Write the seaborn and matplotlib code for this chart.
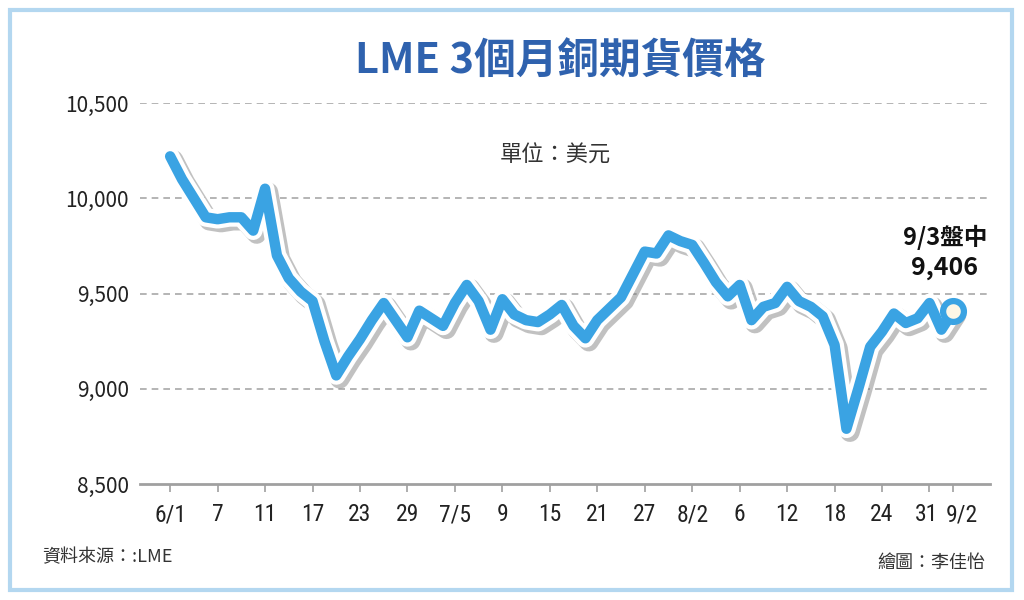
import matplotlib
matplotlib.use("Agg")
import matplotlib.pyplot as plt
import matplotlib.patheffects as pe
from matplotlib import font_manager
import seaborn as sns
import pandas as pd

# trading days from 6/1 (index 0) to 9/3 intraday
day_idx = list(range(67))
price = [10220, 10100, 10000, 9900, 9890, 9900, 9900, 9830, 10050, 9700,
         9580, 9510, 9460, 9250, 9070, 9170, 9260, 9360, 9450, 9360,
         9270, 9410, 9370, 9330, 9450, 9545, 9460, 9310, 9470, 9390,
         9360, 9350, 9390, 9440, 9330, 9265, 9360, 9420, 9480, 9600,
         9720, 9710, 9805, 9775, 9755, 9660, 9560, 9485, 9545, 9360,
         9430, 9450, 9535, 9460, 9430, 9380, 9230, 8790, 9000, 9220,
         9300, 9395, 9345, 9370, 9450, 9310, 9406]

tick_idx = [0, 4, 8, 12, 16, 20, 24, 28, 32, 36, 40, 44, 48, 52, 56, 60, 64, 66]
tick_labels = ["6/1", "7", "11", "17", "23", "29", "7/5", "9", "15", "21",
               "27", "8/2", "6", "12", "18", "24", "31", "9/2"]
y_ticks = [8500, 9000, 9500, 10000, 10500]

df = pd.DataFrame({"day": day_idx, "price": price})

sns.set_style("white")
plt.rcParams['font.family'] = ['Noto Sans CJK TC', 'DejaVu Sans']

# narrow face for the date labels, if one is installed
names = {f.name for f in font_manager.fontManager.ttflist}
narrow = "DejaVu Sans"
for cand in ["Liberation Sans Narrow", "DejaVu Sans Condensed", "Roboto Condensed", "Open Sans Condensed"]:
    if cand in names:
        narrow = cand
        break

blue = "#3aa3e3"
fig = plt.figure(figsize=(10.24, 6), dpi=100)
ax = fig.add_axes([140/1024, 1-484/600, 850/1024, 381/600])

sns.lineplot(data=df, x="day", y="price", ax=ax, color=blue, linewidth=7.5,
             solid_joinstyle="round", solid_capstyle="round", clip_on=False, zorder=3)
line = ax.lines[-1]
line.set_path_effects([
    pe.SimpleLineShadow(offset=(2.5, -2.5), shadow_color="#777777", alpha=0.45, linewidth=14),
    pe.Stroke(linewidth=13.5, foreground="white"),
    pe.Normal(),
])
ax.plot(day_idx[-1], price[-1], marker="o", markersize=15, mfc="#fdf7e6", mec=blue,
        mew=4.5, clip_on=False, zorder=4)

ax.set_xlim(-2.54, 69.1)
ax.set_ylim(8500, 10500)
ax.set_yticks(y_ticks)
ax.set_yticklabels([f"{v:,}" for v in y_ticks], fontsize=15, color="#222222")
ax.set_xticks(tick_idx)
# the last two ticks are close together: draw their labels by hand, pushed apart
ax.set_xticklabels(tick_labels[:-2] + ["", ""], fontsize=17, color="#222222", family=narrow)
for pos, lab, dx in [(tick_idx[-2], tick_labels[-2], -3), (tick_idx[-1], tick_labels[-1], 9)]:
    ax.annotate(lab, xy=(pos, 0), xycoords=("data", "axes fraction"),
                xytext=(dx * 0.72, -14), textcoords="offset points",
                ha="center", va="top", fontsize=17, color="#222222", family=narrow)
for y in y_ticks[1:]:
    ax.axhline(y, color="#a8a8a8", linestyle=(0, (4, 3)), linewidth=1.2, zorder=1)
for s in ["top", "right", "left"]:
    ax.spines[s].set_visible(False)
ax.spines["bottom"].set_color("#a0a0a0")
ax.spines["bottom"].set_linewidth(2)
ax.tick_params(axis="x", length=6, width=1.2, color="#a0a0a0", pad=8, direction="out", bottom=True)
ax.tick_params(axis="y", length=0, pad=8)
ax.set_xlabel("")
ax.set_ylabel("")

fig.text(560/1024, 1-62/600, "LME 3個月銅期貨價格", ha="center", va="center",
         fontsize=30, fontweight="bold", color="#2f62ae")
fig.text(555/1024, 1-155/600, "單位：美元", ha="center", va="center",
         fontsize=16, color="#333333")
fig.text(945/1024, 1-237/600, "9/3盤中", ha="center", va="center",
         fontsize=17, fontweight="bold", color="#111111")
fig.text(945/1024, 1-268/600, "9,406", ha="center", va="center",
         fontsize=18, fontweight="bold", color="#111111")
fig.text(42/1024, 1-557/600, "資料來源：:LME", ha="left", va="center",
         fontsize=13, color="#333333")
fig.text(985/1024, 1-563/600, "繪圖：李佳怡", ha="right", va="center",
         fontsize=13, color="#333333")

frame = plt.Rectangle((10/1024, 10/600), 1002/1024, 580/600, transform=fig.transFigure,
                      fill=False, edgecolor="#b3d7f0", linewidth=3)
fig.patches.append(frame)

fig.savefig("out.png", dpi=100)
